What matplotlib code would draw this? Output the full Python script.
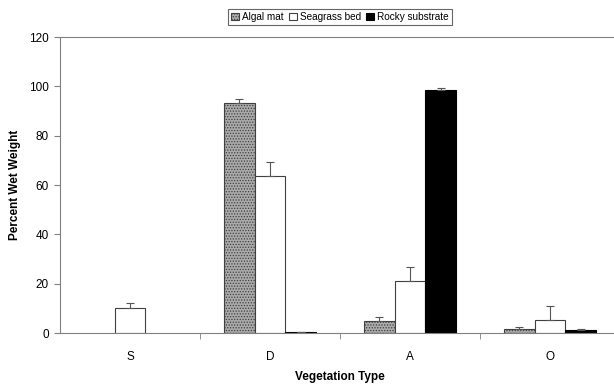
import numpy as np
import matplotlib
matplotlib.use("Agg")
import matplotlib.pyplot as plt

# === Data ===
categories = ["S", "D", "A", "O"]
series = ["Algal mat", "Seagrass bed", "Rocky substrate"]
algal = [0, 93.2, 4.8, 1.8]
algal_err = [0, 1.8, 1.8, 0.5]
seagrass = [10.2, 63.6, 21.2, 5.3]
seagrass_err = [2.0, 5.6, 5.6, 5.8]
rocky = [0, 0.3, 98.6, 1.2]
rocky_err = [0, 0, 0.6, 0.5]

# === Figure ===
plt.rcParams["font.family"] = ["Liberation Sans", "DejaVu Sans"]
plt.rcParams["hatch.color"] = "#6e6e6e"
plt.rcParams["hatch.linewidth"] = 0.6

fig = plt.figure(figsize=(6.14, 3.87), dpi=100)
ax = fig.add_axes([60 / 614, (387 - 333) / 387, 560 / 614, 296 / 387])

x = np.arange(len(categories))
w = 0.22
err_kw = dict(ecolor="#555555", elinewidth=0.8, capsize=3, capthick=0.8)


def draw(offset, vals, errs, **style):
    vals = np.array(vals, dtype=float)
    errs = np.array(errs, dtype=float)
    keep = vals > 0  # zero bars are not drawn in the original
    ax.bar(x[keep] + offset, vals[keep], w,
           yerr=[np.zeros(keep.sum()), errs[keep]], error_kw=err_kw, **style)


draw(-w, algal, algal_err, facecolor="#aaaaaa", edgecolor="#404040",
     linewidth=0.8, hatch="......", label=series[0])
draw(0, seagrass, seagrass_err, facecolor="white", edgecolor="#404040",
     linewidth=0.8, label=series[1])
draw(w, rocky, rocky_err, facecolor="black", edgecolor="black",
     linewidth=0.8, label=series[2])

ax.set_xlim(-0.5, 3.5)
ax.set_ylim(0, 120)
ax.set_yticks(range(0, 121, 20))
ax.set_xticks(x)
ax.set_xticklabels(categories)
ax.set_xticks([0.5, 1.5, 2.5], minor=True)
ax.tick_params(axis="x", which="major", length=0, pad=13, labelsize=8.5)
ax.tick_params(axis="x", which="minor", length=4, color="#808080", direction="out")
ax.tick_params(axis="y", length=4, color="#808080", labelsize=8.5, pad=4)

for side in ["left", "bottom", "top"]:
    ax.spines[side].set_color("#808080")
ax.spines["right"].set_visible(False)

ax.set_xlabel("Vegetation Type", fontsize=8.5, fontweight="bold", labelpad=6)
ax.set_ylabel("Percent Wet Weight", fontsize=8.5, fontweight="bold", labelpad=6)

leg = fig.legend(loc="upper center", bbox_to_anchor=(340 / 614, 1 - 4 / 387), ncol=3,
                 fontsize=7.2, frameon=True, fancybox=False, edgecolor="#404040",
                 handlelength=0.8, handleheight=0.8, handletextpad=0.3,
                 columnspacing=0.5, borderpad=0.3)
leg.get_frame().set_linewidth(0.8)

fig.savefig("out.png", dpi=100)
